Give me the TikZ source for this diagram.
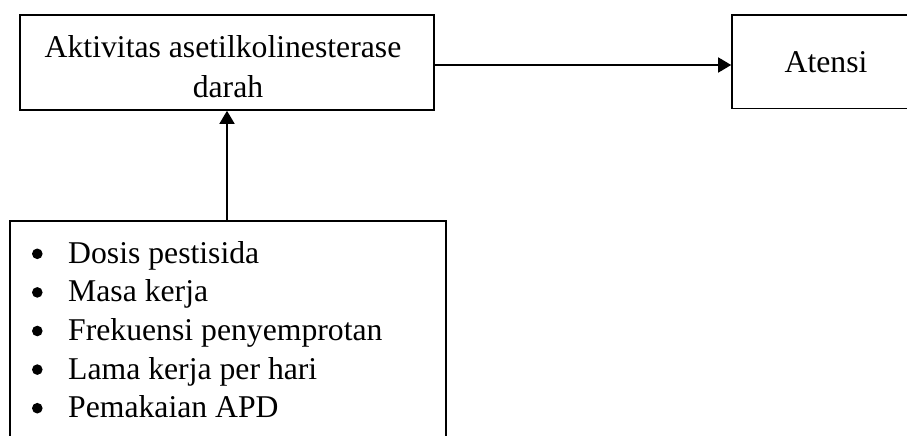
\documentclass[tikz,border=0pt]{standalone}
\usepackage{fontspec}
\setmainfont{Liberation Serif}
\usetikzlibrary{arrows.meta}
\begin{document}
\begin{tikzpicture}[x=1pt,y=1pt,
  box/.style={draw=black, line width=1.6pt, inner sep=0pt},
  txt/.style={inner sep=0pt, font=\fontsize{31.7}{38}\selectfont},
  bul/.style={circle, fill=black, inner sep=0pt, minimum size=10.6pt},
  conn/.style={line width=1.6pt, -{Triangle[length=13pt,width=15pt]}}]
\useasboundingbox (0,0) rectangle (907,-436);
\fill[white] (0,0) rectangle (907,-436);
\clip (0,0) rectangle (907,-436);
% boxes
\node[box, minimum width=414pt, minimum height=95pt] (act) at (227,-62.5) {};
\node[box, minimum width=218pt, minimum height=93.3pt] (ate) at (841,-61.65) {};
\node[box, minimum width=436pt, minimum height=229pt] (lst) at (228,-335.5) {};
% texts
\node[txt, anchor=base] (act1) at (223,-57) {Aktivitas asetilkolinesterase};
\node[txt, anchor=base] (act2) at (228,-97) {darah};
\node[txt, anchor=base] (atet) at (826,-72) {Atensi};
\foreach \t [count=\i] in {Dosis pestisida, Masa kerja, Frekuensi penyemprotan, Lama kerja per hari, Pemakaian APD}{
  \pgfmathsetmacro{\yy}{-263.3-38.6*(\i-1)}
  \node[bul] (b\i) at (37.3,\yy+9.5) {};
  \node[txt, anchor=base west] (l\i) at (68,\yy) {\t};
}
% connectors
\draw[conn] ([yshift=-2.5pt]act.east) -- ([yshift=-2.5pt]act.east -| ate.west);
\draw[conn] (act.south |- lst.north) -- (act.south);
\end{tikzpicture}
\end{document}
